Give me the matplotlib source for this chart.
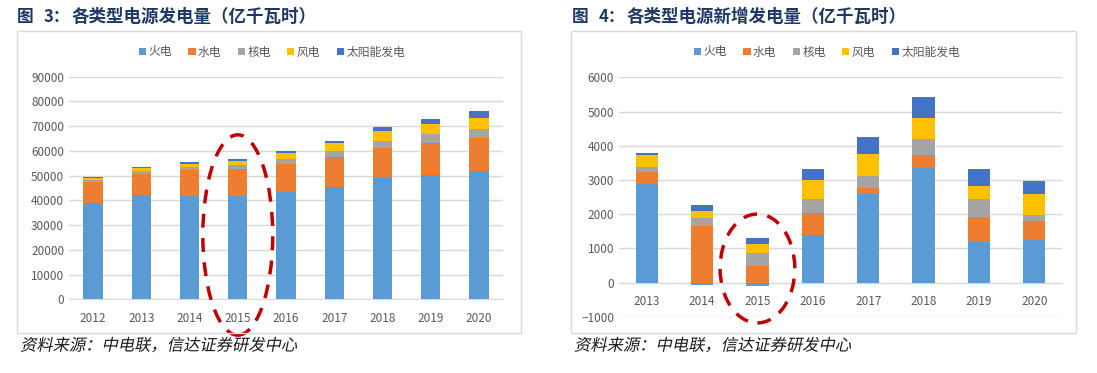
import matplotlib
matplotlib.use("Agg")
import matplotlib.pyplot as plt
import numpy as np
from matplotlib.font_manager import FontProperties
from matplotlib.patches import Ellipse, PathPatch, Rectangle
from matplotlib.textpath import TextPath
from matplotlib.transforms import Affine2D, IdentityTransform

plt.rcParams["font.family"] = ["Noto Sans CJK SC", "DejaVu Sans"]

# ---- 数据 ----
anios_izq = ["2012", "2013", "2014", "2015", "2016", "2017", "2018", "2019", "2020"]
huodian = [39100, 42000, 41900, 41800, 43200, 45600, 49000, 50200, 51700]
shuidian = [8200, 8800, 10500, 10900, 11700, 12100, 12300, 13100, 13400]
hedian = [950, 1050, 1000, 1600, 1850, 2400, 2850, 3500, 3700]
fengdian = [950, 1250, 1300, 1800, 2300, 3000, 3950, 4050, 4500]
taiyang = [350, 450, 800, 500, 1000, 1050, 1600, 2150, 2700]

anios_der = ["2013", "2014", "2015", "2016", "2017", "2018", "2019", "2020"]
huodian_new = [2880, -60, -100, 1390, 2580, 3360, 1200, 1256]
shuidian_new = [350, 1665, 500, 640, 195, 360, 710, 535]
hedian_new = [140, 225, 380, 410, 350, 475, 535, 175]
fengdian_new = [350, 215, 260, 560, 635, 625, 390, 615]
taiyang_new = [80, 150, 155, 310, 505, 595, 485, 380]

nombres = ["火电", "水电", "核电", "风电", "太阳能发电"]
colores = ["#5B9BD5", "#ED7D31", "#A5A5A5", "#FFC000", "#4472C4"]

titulo_izq = ("3：", "各类型电源发电量（亿千瓦时）")
titulo_der = ("4：", "各类型电源新增发电量（亿千瓦时）")
fuente = "资料来源：中电联，信达证券研发中心"

W, H = 1097, 373
TXT = "#595959"
GRID = "#D9D9D9"
NAVY = "#1F3864"


def px_ax(fig, x0, y0, x1, y1):
    """Crea ejes a partir de coordenadas en pixeles (y hacia abajo)."""
    return fig.add_axes([x0 / W, 1 - y1 / H, (x1 - x0) / W, (y1 - y0) / H])


def apilar(ax, series):
    x = np.arange(len(series[0]))
    pos = np.zeros(len(x))
    neg = np.zeros(len(x))
    barras = []
    for vals, col in zip(series, colores):
        v = np.array(vals, dtype=float)
        base = np.where(v >= 0, pos, neg)
        b = ax.bar(x, v, bottom=base, width=0.4, color=col, zorder=3)
        barras.append(b)
        pos = pos + np.where(v >= 0, v, 0)
        neg = neg + np.where(v < 0, v, 0)
    return barras


def estilo(ax, etiquetas):
    ax.set_xticks(np.arange(len(etiquetas)))
    ax.set_xticklabels(etiquetas)
    ax.set_xlim(-0.5, len(etiquetas) - 0.5)
    for s in ["top", "right", "left"]:
        ax.spines[s].set_visible(False)
    ax.spines["bottom"].set_color(GRID)
    ax.spines["bottom"].set_position(("data", 0))
    ax.tick_params(axis="both", length=0, colors=TXT, labelsize=8.5)
    ax.tick_params(axis="x", pad=9)
    ax.grid(axis="y", color=GRID, linewidth=1, zorder=0)
    ax.set_axisbelow(True)


def titulo(fig, x0, partes):
    kw = dict(fontweight="bold", color=NAVY, va="center", ha="left")
    y = 1 - 17 / H
    fig.text(x0 / W, y, "图", fontsize=12, **kw)
    fig.text((x0 + 27) / W, y, partes[0], fontsize=12, **kw)
    fig.text((x0 + 55) / W, y, partes[1], fontsize=12.6, **kw)


def texto_cursiva(fig, x0, yc, s):
    # texto inclinado (imitando la fuente Kai en cursiva)
    fp = FontProperties(family="Noto Sans CJK SC")
    tp = TextPath((0, 0), s, size=16.3, prop=fp)
    tr = Affine2D().skew_deg(12, 0).translate(x0, H - yc - 5.5)
    fig.patches.append(PathPatch(tr.transform_path(tp), transform=IdentityTransform(),
                                 facecolor="#1a1a1a", edgecolor="none"))


fig = plt.figure(figsize=(W / 100, H / 100), dpi=100)

# marcos
for x0, x1 in [(17, 521), (571, 1076)]:
    fig.patches.append(Rectangle((x0 / W, 1 - 333 / H), (x1 - x0) / W, (333 - 31) / H,
                                 transform=fig.transFigure, fill=False,
                                 edgecolor=GRID, linewidth=1))

# ---- grafico izquierdo ----
ax1 = px_ax(fig, 69, 76.7, 503, 299.3)
barras1 = apilar(ax1, [huodian, shuidian, hedian, fengdian, taiyang])
ax1.set_ylim(0, 90000)
ax1.set_yticks(np.arange(0, 90001, 10000))
estilo(ax1, anios_izq)
ax1.add_patch(Ellipse((3, 26000), 1.45, 81000, fill=False, edgecolor="#C00000",
                      linestyle=(0, (4, 3)), linewidth=2.5, clip_on=False, zorder=5))

# ---- grafico derecho ----
ax2 = px_ax(fig, 619, 77.3, 1062, 316.9)
barras2 = apilar(ax2, [huodian_new, shuidian_new, hedian_new, fengdian_new, taiyang_new])
ax2.set_ylim(-1000, 6000)
ax2.set_yticks(np.arange(-1000, 6001, 1000))
estilo(ax2, anios_der)
ax2.add_patch(Ellipse((2, 415), 1.35, 3180, fill=False, edgecolor="#C00000",
                      linestyle=(0, (4, 3)), linewidth=2.5, clip_on=False, zorder=5))

# leyendas
for cx, barras in [(272, barras1), (827, barras2)]:
    fig.legend(barras, nombres, loc="center", bbox_to_anchor=(cx / W, 1 - 52 / H),
               ncol=5, frameon=False, fontsize=8.5, labelcolor=TXT,
               handlelength=0.6, handleheight=0.6, handletextpad=0.2,
               columnspacing=1.4)

# titulos
titulo(fig, 17, titulo_izq)
titulo(fig, 572, titulo_der)

# fuentes
texto_cursiva(fig, 20, 345, fuente)
texto_cursiva(fig, 574, 345, fuente)

fig.savefig("out.png", dpi=100)
